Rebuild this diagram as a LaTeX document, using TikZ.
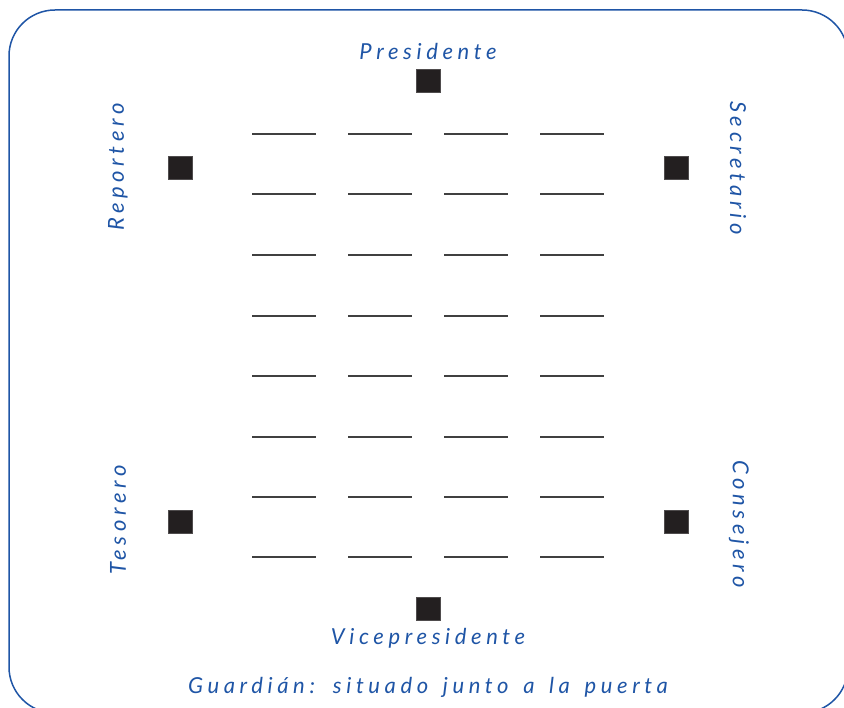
\documentclass[tikz,border=0pt]{standalone}
\usepackage{fontspec}
\usepackage{xcolor}
\setmainfont{Lato}
\newfontfamily\seatfont[LetterSpace=21, WordSpace=1.5]{Lato}
\definecolor{roomblue}{HTML}{1F55A6}
\definecolor{seatblack}{HTML}{231F20}
\usetikzlibrary{positioning}

\tikzset{
  officer/.style={font=\seatfont\itshape\fontsize{22}{26}\selectfont, text=roomblue, inner sep=0pt},
  seat/.style={draw=seatblack!80, fill=seatblack, minimum width=24pt, minimum height=23pt, inner sep=0pt},
  desk/.style={draw=black!75, line width=1.6pt}
}

\begin{document}
\begin{tikzpicture}[x=1pt, y=-1pt]
    \useasboundingbox (0,0) rectangle (844,708);
    \fill[white] (0,0) rectangle (844,708);

    % Room outline
    \draw[roomblue, line width=1.5pt, rounded corners=46pt] (9,10) rectangle (848,713);

    % Members' rows
    \foreach \row in {134,194,255,316,376,437,497,557}
        \foreach \col in {252,348,444,540}
            \draw[desk] (\col,\row) -- ++(64,0);

    % Officers' stations
    \node[seat] (pres) at (428,81) {};
    \node[seat] (vice) at (428,609) {};
    \node[seat] (rep) at (180,168) {};
    \node[seat] (sec) at (676,168) {};
    \node[seat] (tes) at (180,522) {};
    \node[seat] (cons) at (676,522) {};

    % Titles
    \node[officer] (presname) at (428,51) {Presidente};
    \node[officer] (vicename) at (428,638) {Vicepresidente};
    \node[officer, rotate=90] (repname) at (118,167) {Reportero};
    \node[officer, rotate=-90] (secname) at (738,168) {Secretario};
    \node[officer, rotate=90] (tesname) at (118,520) {Tesorero};
    \node[officer, rotate=-90] (consname) at (739,524) {Consejero};
    \node[officer] (guard) at (428,687) {Guardián: situado junto a la puerta};
\end{tikzpicture}
\end{document}
